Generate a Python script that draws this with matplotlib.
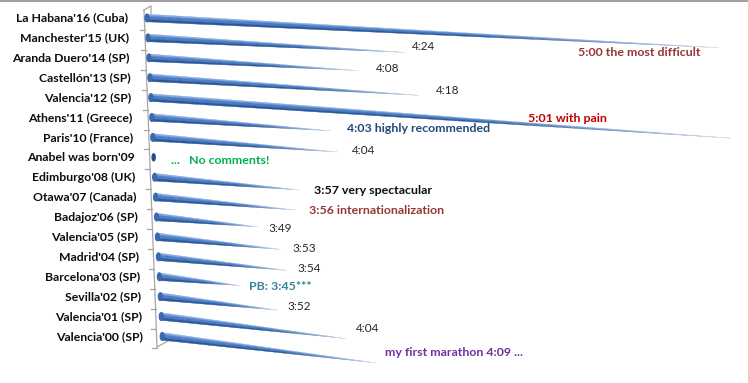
import numpy as np
import matplotlib.pyplot as plt
from matplotlib.collections import PolyCollection
from matplotlib.patches import Ellipse
from matplotlib.colors import to_rgb

# races, top to bottom
races = [
    "La Habana'16 (Cuba)", "Manchester'15 (UK)", "Aranda Duero'14 (SP)",
    "Castellón'13 (SP)", "Valencia'12 (SP)", "Athens'11 (Greece)",
    "Paris'10 (France)", "Anabel was born'09", "Edimburgo'08 (UK)",
    "Otawa'07 (Canada)", "Badajoz'06 (SP)", "Valencia'05 (SP)",
    "Madrid'04 (SP)", "Barcelona'03 (SP)", "Sevilla'02 (SP)",
    "Valencia'01 (SP)", "Valencia'00 (SP)",
]
# bar length in minutes as drawn (None = no race that year)
bar_minutes = [300, 256, 248, 258, 301, 243, 244, None, 237, 236,
               229, 233, 234, 225, 232, 244, 249]
# note text next to each bar
notes = [
    "5:00 the most difficult", "4:24", "4:08", "4:18", "5:01 with pain",
    "4:03 highly recommended", "4:04", "...   No comments!",
    "3:57 very spectacular", "3:56 internationalization", "3:49", "3:53",
    "3:54", "PB: 3:45***", "3:52", "4:04", "my first marathon 4:09 ...",
]
note_colors = ["#953735", "#262626", "#262626", "#262626", "#c00000",
               "#1f497d", "#262626", "#00b050", "#0d0d0d", "#953735",
               "#262626", "#262626", "#262626", "#31859c", "#262626",
               "#262626", "#7030a0"]
note_bold = [True, False, False, False, True, True, False, True, True, True,
             False, False, False, True, False, False, True]
# left edge / centre line of each note (pixels)
note_pos = [(578, 53), (412, 47), (376, 68), (436, 90), (528, 119),
            (347, 129), (352, 150), (171, 160), (314, 190), (309, 210),
            (268, 229), (292, 249), (297, 268), (249, 286), (287, 307),
            (356, 329), (385, 352)]

W, H = 748, 383
FONT = "Lato"


def project(row, minutes):
    """fake 3D perspective: base of the cone and its tip in pixels"""
    bx = 147 + 0.95 * row
    by = 18 + 19.9 * row
    if minutes is None:
        return (bx, by), None
    d = minutes - 209
    length = 4.79 * d / (1 - 0.00261 * d)
    slope = 0.052 + 0.0045 * row
    return (bx, by), (bx + length, by + slope * length)


def blend(c, f):
    c = np.array(to_rgb(c))
    return tuple(c + (1 - c) * f)


def draw_cone(ax, base, tip, r0=3.8, nseg=40):
    base = np.array(base)
    tip = np.array(tip)
    u = (tip - base) / np.linalg.norm(tip - base)
    n = np.array([-u[1], u[0]])
    bands = [(-1.0, -0.5, "#86aade"), (-0.5, 0.35, "#4a7dc6"),
             (0.35, 1.0, "#2b5898")]
    polys, cols = [], []
    for k in range(nseg):
        t0, t1 = k / nseg, (k + 1) / nseg
        p0 = base + (tip - base) * t0
        p1 = base + (tip - base) * t1
        w0, w1 = r0 * (1 - t0), r0 * (1 - t1)
        tm = (t0 + t1) / 2
        f = np.clip((tm - 0.55) / 0.45, 0, 1) ** 1.3 * 0.85
        for sa, sb, c in bands:
            polys.append([p0 + sa * w0 * n, p1 + sa * w1 * n,
                          p1 + sb * w1 * n, p0 + sb * w0 * n])
            cols.append(blend(c, f))
    pc = PolyCollection(polys, facecolors=cols, edgecolors=cols,
                        linewidths=0.3, zorder=3)
    ax.add_collection(pc)


fig = plt.figure(figsize=(W / 100, H / 100), dpi=100)
ax = fig.add_axes([0, 0, 1, 1])
ax.set_xlim(0, W)
ax.set_ylim(H, 0)
ax.axis("off")

# frame line at the top
ax.plot([0, W], [1, 1], color="#8c8c8c", lw=1.2)


# slanted category axis with depth stubs
def axis_x(y):
    return 144 + (y - 10) * 13 / 337


ax.plot([axis_x(10), axis_x(347)], [10, 347], color="#a6a6a6", lw=0.9)
ax.plot([axis_x(10), 151, 151], [10, 6, 14], color="#a6a6a6", lw=0.9)
ax.plot([axis_x(347), 168], [347, 341], color="#a6a6a6", lw=0.9)
for k in range(17):
    y = 30 + 19.9 * k
    ax.plot([axis_x(y) - 5, axis_x(y)], [y, y], color="#a6a6a6", lw=0.9)

for i, (name, m) in enumerate(zip(races, bar_minutes)):
    base, tip = project(i, m)
    ax.text(128 + 0.95 * i, base[1], name, ha="right", va="center",
            fontsize=8.8, fontweight="bold", color="#0d0d0d", family=FONT)
    if tip is not None:
        draw_cone(ax, base, tip)
        ax.add_patch(Ellipse(base, 3.8, 7.6, color="#3a69ae", zorder=4))
    else:
        ax.add_patch(Ellipse(base, 3.0, 7.0, color="#1f4e8c", zorder=4))

for txt, c, b, (x, y) in zip(notes, note_colors, note_bold, note_pos):
    ax.text(x, y, txt, ha="left", va="center",
            fontsize=8.9 if b else 8.5,
            fontweight="bold" if b else "normal", color=c, family=FONT,
            zorder=5)

fig.savefig("out.png", dpi=100)
